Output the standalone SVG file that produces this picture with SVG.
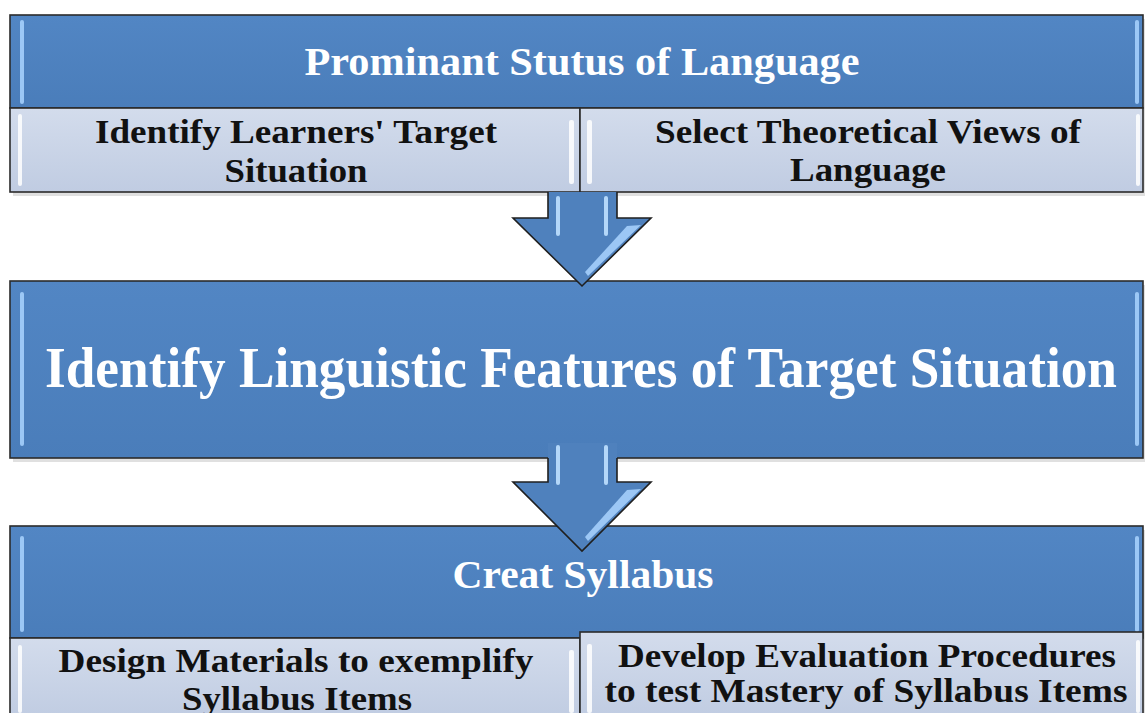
<svg xmlns="http://www.w3.org/2000/svg" width="1145" height="713" viewBox="0 0 1145 713">
<defs>
<style>
.blue{fill:#4f81bd;stroke:#2b2b2b;stroke-width:1.6}
.light{fill:#c6d1e6;stroke:#2b2b2b;stroke-width:1.6}
.wt{font-family:"Liberation Serif","Times New Roman",serif;font-weight:bold;fill:#ffffff;text-anchor:middle}
.bt{font-family:"Liberation Serif","Times New Roman",serif;font-weight:bold;fill:#111111;text-anchor:middle}
.hlb{fill:#a9d3ff;opacity:0.85}
.hlw{fill:#ffffff;opacity:0.85}
.shadow{fill:#000;opacity:0.12}
</style>
<linearGradient id="gl" x1="0" y1="0" x2="0" y2="1">
<stop offset="0" stop-color="#d3dcec"/>
<stop offset="1" stop-color="#c0cce2"/>
</linearGradient>
<linearGradient id="gb" x1="0" y1="0" x2="0" y2="1">
<stop offset="0" stop-color="#5286c4"/>
<stop offset="1" stop-color="#4a7dba"/>
</linearGradient>
</defs>
<rect width="1145" height="713" fill="#ffffff"/>

<g id="top">
<rect class="shadow" x="13" y="19" width="1135" height="177"/>
<rect class="blue" x="10" y="15" width="1133" height="93" style="fill:url(#gb)"/>
<rect class="hlb" x="20" y="20" width="4" height="84" rx="2"/>
<rect class="hlb" x="1135" y="20" width="4" height="84" rx="2"/>
<text class="wt" x="582" y="75" font-size="40" textLength="555" lengthAdjust="spacingAndGlyphs">Prominant Stutus of Language</text>
<rect class="light" x="10" y="108" width="570" height="84" style="fill:url(#gl)"/>
<rect class="hlw" x="18" y="114" width="4" height="72" rx="2"/>
<rect class="hlw" x="569" y="120" width="5" height="64" rx="2"/>
<text class="bt" x="296" y="143" font-size="34" textLength="402" lengthAdjust="spacingAndGlyphs">Identify Learners' Target</text>
<text class="bt" x="296" y="182" font-size="34" textLength="143" lengthAdjust="spacingAndGlyphs">Situation</text>
<rect class="light" x="580" y="108" width="563" height="84" style="fill:url(#gl)"/>
<rect class="hlw" x="587" y="120" width="5" height="64" rx="2"/>
<rect class="hlw" x="1136" y="114" width="4" height="72" rx="2"/>
<text class="bt" x="868" y="143" font-size="34" textLength="426" lengthAdjust="spacingAndGlyphs">Select Theoretical Views of</text>
<text class="bt" x="868" y="181" font-size="34" textLength="156" lengthAdjust="spacingAndGlyphs">Language</text>
</g>

<g id="middle">
<rect class="shadow" x="13" y="285" width="1135" height="177"/>
<rect class="blue" x="10" y="281" width="1133" height="177" style="fill:url(#gb)"/>
<rect class="hlb" x="20" y="292" width="4" height="154" rx="2"/>
<rect class="hlb" x="1135" y="292" width="4" height="154" rx="2"/>
<text class="wt" x="581" y="387" font-size="57" textLength="1072" lengthAdjust="spacingAndGlyphs">Identify Linguistic Features of Target Situation</text>
</g>

<g id="bottom">
<rect class="shadow" x="13" y="530" width="1135" height="190"/>
<rect class="blue" x="10" y="526" width="1133" height="112" style="fill:url(#gb)"/>
<rect class="hlb" x="20" y="536" width="4" height="96" rx="2"/>
<rect class="hlb" x="1135" y="536" width="4" height="96" rx="2"/>
<text class="wt" x="583" y="588" font-size="40" textLength="261" lengthAdjust="spacingAndGlyphs">Creat Syllabus</text>
<rect class="light" x="10" y="638" width="570" height="80" style="fill:url(#gl)"/>
<rect class="hlw" x="18" y="645" width="4" height="68" rx="2"/>
<rect class="hlw" x="569" y="650" width="5" height="63" rx="2"/>
<text class="bt" x="296" y="672" font-size="34" textLength="475" lengthAdjust="spacingAndGlyphs">Design Materials to exemplify</text>
<text class="bt" x="297" y="710" font-size="34" textLength="230" lengthAdjust="spacingAndGlyphs">Syllabus Items</text>
<rect class="light" x="580" y="632" width="563" height="86" style="fill:url(#gl)"/>
<rect class="hlw" x="587" y="644" width="5" height="69" rx="2"/>
<rect class="hlw" x="1136" y="640" width="4" height="73" rx="2"/>
<text class="bt" x="867" y="667" font-size="34" textLength="498" lengthAdjust="spacingAndGlyphs">Develop Evaluation Procedures</text>
<text class="bt" x="866" y="702" font-size="34" textLength="523" lengthAdjust="spacingAndGlyphs">to test Mastery of Syllabus Items</text>
</g>

<g id="connectors">
<g id="arrow1">
<path d="M548,192 L617,192 L617,218 L651,218 L582,286 L513,218 L548,218 Z" fill="#4f81bd"/>
<path d="M548,192 L548,218 L513,218 L582,286 L651,218 L617,218 L617,192" fill="none" stroke="#1f1f1f" stroke-width="1.6" stroke-linejoin="miter"/>
<rect x="556" y="196" width="4" height="40" rx="2" fill="#bfe0ff" opacity="0.9"/>
<rect x="604" y="196" width="4" height="40" rx="2" fill="#bfe0ff" opacity="0.9"/>
<path d="M627,226 L641,225 L588,276 L585,272 Z" fill="#a9d3ff" opacity="0.85"/>
</g>
<g id="arrow2">
<path d="M548,443 L617,443 L617,482 L651,482 L582,551 L513,482 L548,482 Z" fill="#4f81bd"/>
<path d="M548,458 L548,482 L513,482 L582,551 L651,482 L617,482 L617,458" fill="none" stroke="#1f1f1f" stroke-width="1.6" stroke-linejoin="miter"/>
<rect x="556" y="445" width="4" height="40" rx="2" fill="#bfe0ff" opacity="0.9"/>
<rect x="604" y="445" width="4" height="40" rx="2" fill="#bfe0ff" opacity="0.9"/>
<path d="M627,490 L641,489 L588,541 L585,537 Z" fill="#a9d3ff" opacity="0.85"/>
</g>
</g>
</svg>
